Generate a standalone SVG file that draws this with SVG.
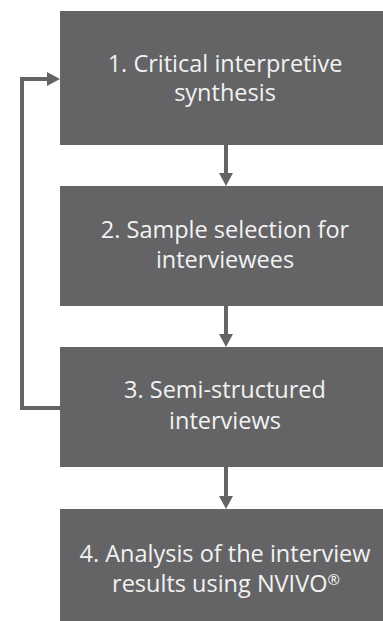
<svg xmlns="http://www.w3.org/2000/svg" width="383" height="621" viewBox="0 0 383 621">
<style>
.box{fill:#646466}
.t{font-family:"Open Sans","Liberation Sans",sans-serif;font-size:23.5px;fill:#f2f2f2;text-anchor:middle}
.c{stroke:#646466;stroke-width:4;fill:none}
</style>
<defs>
<marker id="ah" markerUnits="userSpaceOnUse" markerWidth="14" markerHeight="14" refX="4" refY="7" orient="auto">
<path d="M0,0 L13,7 L0,14 Z" fill="#646466"/>
</marker>
</defs>
<rect width="383" height="621" fill="#fff"/>
<g id="connectors">
<path class="c" d="M226,145 V177" marker-end="url(#ah)"/>
<path class="c" d="M226,306 V338" marker-end="url(#ah)"/>
<path class="c" d="M226,467 V500" marker-end="url(#ah)"/>
<path class="c" d="M60,408 H22 V79 H51" marker-end="url(#ah)"/>
</g>
<g id="n1"><rect class="box" x="60" y="11" width="330" height="134"/><text class="t" x="225" y="72">1. Critical interpretive</text><text class="t" x="225" y="101">synthesis</text></g>
<g id="n2"><rect class="box" x="60" y="186" width="330" height="120"/><text class="t" x="225" y="238">2. Sample selection for</text><text class="t" x="225" y="268">interviewees</text></g>
<g id="n3"><rect class="box" x="60" y="347" width="330" height="120"/><text class="t" x="225" y="398">3. Semi-structured</text><text class="t" x="225" y="429">interviews</text></g>
<g id="n4"><rect class="box" x="60" y="509" width="330" height="120"/><text class="t" x="225" y="562">4. Analysis of the interview</text><text class="t" x="226" y="592">results using NVIVO<tspan font-size="15" dy="-7">®</tspan></text></g>
</svg>
